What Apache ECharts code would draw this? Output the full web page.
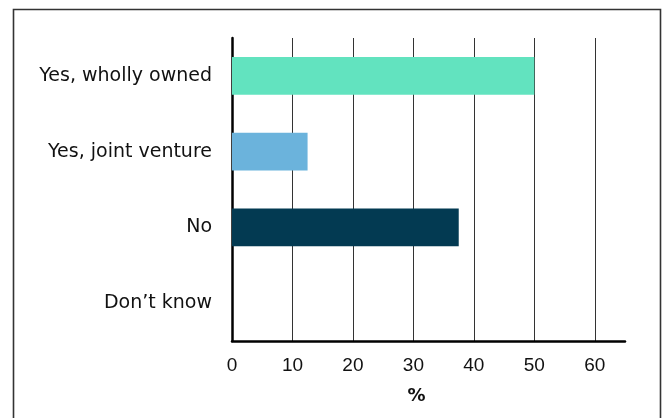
<!DOCTYPE html>
<html>
<head>
<meta charset="utf-8">
<script src="https://cdn.jsdelivr.net/npm/echarts@6/dist/echarts.min.js"></script>
<style>html,body{margin:0;padding:0;background:#fff}#c{width:662px;height:418px}</style>
</head>
<body>
<div id="c"></div>
<script>
const categories = ["Yes, wholly owned", "Yes, joint venture", "No", "Don\u2019t know"];
const values = [50, 12.5, 37.5, 0];
const barColors = ["#62E3BF", "#6BB3DC", "#033A52", "#888888"];
const xTicks = [0, 10, 20, 30, 40, 50, 60];

const chart = echarts.init(document.getElementById('c'), null, {renderer: 'canvas'});
const font = 'DejaVu Sans';
chart.setOption({
  animation: false,
  graphic: [{
    type: 'rect', shape: {x: 13.5, y: 9.5, width: 647, height: 430},
    style: {fill: 'none', stroke: '#333', lineWidth: 1.6}, silent: true
  }],
  grid: {left: 232, top: 38, width: 393, height: 303, containLabel: false},
  xAxis: {
    type: 'value', min: 0, max: 65, interval: 10,
    name: '%', nameLocation: 'middle', nameGap: 46,
    nameTextStyle: {fontFamily: font, fontSize: 18, fontWeight: 'bold', color: '#111', padding: [0, 24, 0, 0]},
    axisLine: {show: true, lineStyle: {color: '#000', width: 2.5}},
    axisTick: {show: false},
    axisLabel: {fontFamily: 'Liberation Sans', fontSize: 19, color: '#111', margin: 15,
      formatter: v => xTicks.includes(v) ? String(v) : ''},
    splitLine: {show: true, showMaxLine: false, lineStyle: {color: '#333', width: 1}}
  },
  yAxis: {
    type: 'category', data: categories, inverse: true,
    axisLine: {show: true, lineStyle: {color: '#000', width: 2.5}},
    axisTick: {show: false},
    axisLabel: {fontFamily: font, fontSize: 19, color: '#111', margin: 20},
    splitLine: {show: false}
  },
  series: [{
    type: 'bar', barWidth: '50%',
    data: values.map((v, i) => ({value: v, itemStyle: {color: barColors[i]}}))
  }]
});
</script>
</body>
</html>
